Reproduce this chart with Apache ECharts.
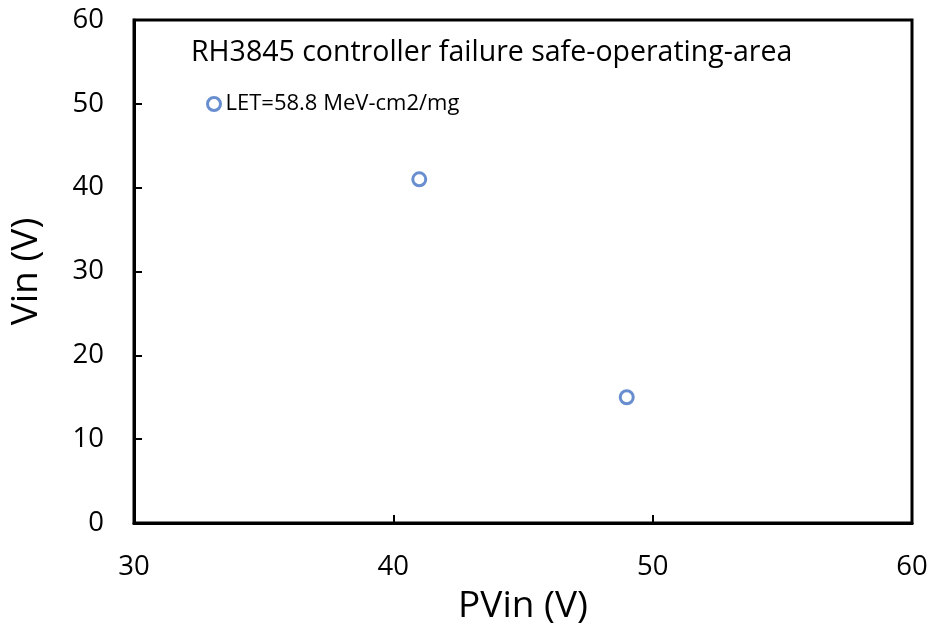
<!DOCTYPE html>
<html>
<head>
<meta charset="utf-8">
<script src="https://cdn.jsdelivr.net/npm/echarts@6/dist/echarts.min.js"></script>
<style>
  html, body { margin: 0; padding: 0; background: #fff; }
  #chart { width: 932px; height: 630px; }
</style>
</head>
<body>
<div id="chart"></div>
<script>
// data
const seriesName = "LET=58.8 MeV-cm2/mg";
const pvin = [41, 49];
const vin = [41, 15];
const xTicks = [30, 40, 50, 60];
const yTicks = [0, 10, 20, 30, 40, 50, 60];

const points = pvin.map((x, i) => [x, vin[i]]);
const font = "'Open Sans', Lato, sans-serif";
const blue = "#4472C4";

let myChart = echarts.init(document.getElementById("chart"));
const options = {
  animation: false,
  backgroundColor: "#fff",
  title: {
    text: "RH3845 controller failure safe-operating-area",
    left: 186,
    top: 33,
    textStyle: { fontFamily: font, fontSize: 28.5, fontWeight: "normal", color: "#000" },
  },
  legend: {
    left: 201,
    top: 88,
    icon: "circle",
    itemWidth: 13,
    itemHeight: 13,
    itemStyle: { color: "#fff", borderColor: blue, borderWidth: 3 },
    textStyle: { fontFamily: font, fontSize: 22, color: "#000" },
    data: [seriesName],
  },
  grid: {
    left: 134,
    right: 20,
    top: 20,
    bottom: 107,
    show: true,
    borderColor: "#000",
    borderWidth: 3,
  },
  xAxis: {
    type: "value",
    min: xTicks[0],
    max: xTicks[xTicks.length - 1],
    interval: 10,
    name: "PVin (V)",
    nameLocation: "middle",
    nameGap: 65,
    nameTextStyle: { fontFamily: font, fontSize: 37, color: "#000" },
    axisLine: { lineStyle: { color: "#000", width: 3 } },
    axisTick: { inside: true, length: 8, lineStyle: { color: "#000", width: 2 } },
    axisLabel: { fontFamily: font, fontSize: 27.5, color: "#000", margin: 30 },
    splitLine: { show: false },
  },
  yAxis: {
    type: "value",
    min: yTicks[0],
    max: yTicks[yTicks.length - 1],
    interval: 10,
    name: "Vin (V)",
    nameLocation: "middle",
    nameGap: 89,
    nameTextStyle: { fontFamily: font, fontSize: 37, color: "#000" },
    axisLine: { lineStyle: { color: "#000", width: 3 } },
    axisTick: { inside: true, length: 8, lineStyle: { color: "#000", width: 2 } },
    axisLabel: { fontFamily: font, fontSize: 27.5, color: "#000", margin: 30 },
    splitLine: { show: false },
  },
  series: [
    {
      name: seriesName,
      type: "scatter",
      data: points,
      symbol: "circle",
      symbolSize: 13,
      itemStyle: { color: "#fff", borderColor: blue, borderWidth: 3 },
    },
  ],
};
myChart.setOption(options);
</script>
</body>
</html>
